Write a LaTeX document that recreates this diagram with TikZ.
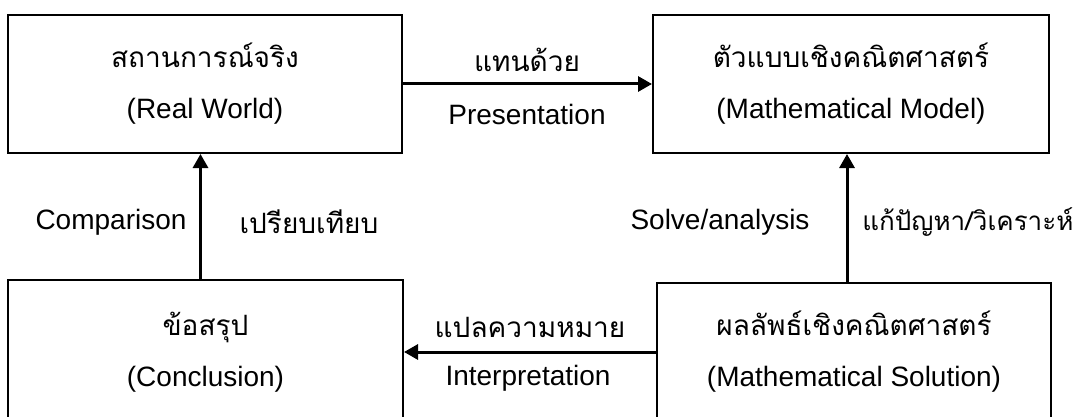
\documentclass[tikz,border=0pt]{standalone}
\usepackage{fontspec}
\setmainfont{Liberation Sans}
\newfontfamily\thai[Script=Thai]{Loma}
\usetikzlibrary{arrows.meta}
\tikzset{stagebox/.style={draw, rectangle, align=center, inner sep=0pt, line width=1pt,
    minimum height=69pt, minimum width=197pt, font=\fontsize{14}{25.5}\selectfont},
  flow/.style={line width=1.5pt, -{Triangle[length=7pt,width=7.5pt]}},
  lbl/.style={font=\fontsize{14}{16}\selectfont, inner sep=0pt}}

\begin{document}
\begin{tikzpicture}[x=0.5pt,y=-0.5pt]
   \useasboundingbox (0,0) rectangle (1091,417);
   \clip (0,0) rectangle (1091,417);
   \node[stagebox] (real)  at (205,84) {{\thai สถานการณ์จริง}\\(Real World)};
   \node[stagebox, minimum width=198pt] (model) at (851,84) {{\thai ตัวแบบเชิงคณิตศาสตร์}\\(Mathematical Model)};
   \node[stagebox, minimum width=197.5pt, minimum height=72pt] (concl) at (205.5,352) {{\thai ข้อสรุป}\\(Conclusion)};
   \node[stagebox] (sol)   at (854,352) {{\thai ผลลัพธ์เชิงคณิตศาสตร์}\\(Mathematical Solution)};
   \draw[flow] (real.east) -- (model.west);
   \draw[flow] ([xshift=-2pt]sol.north -| model.south) -- ([xshift=-2pt]model.south);
   \draw[flow] (sol.west) -- (concl.east |- sol.west);
   \draw[flow] ([xshift=-2.5pt]concl.north) -- ([xshift=-2.5pt]concl.north |- real.south);
   \node[lbl] (rep)  at (527,60)  {\thai แทนด้วย};
   \node[lbl] (repe) at (527,114) {Presentation};
   \node[lbl] (cmpe) at (111,222) {Comparison};
   \node[lbl] (cmp)  at (309,222) {\thai เปรียบเทียบ};
   \node[lbl] (solve)  at (720,222) {Solve/analysis};
   \node[lbl, anchor=west, font=\fontsize{13}{16}\selectfont] (solvet) at (862,222) {\thai แก้ปัญหา/วิเคราะห์};
   \node[lbl] (intp)  at (530,327) {\thai แปลความหมาย};
   \node[lbl] (intpe) at (528,378) {Interpretation};
\end{tikzpicture}
\end{document}
